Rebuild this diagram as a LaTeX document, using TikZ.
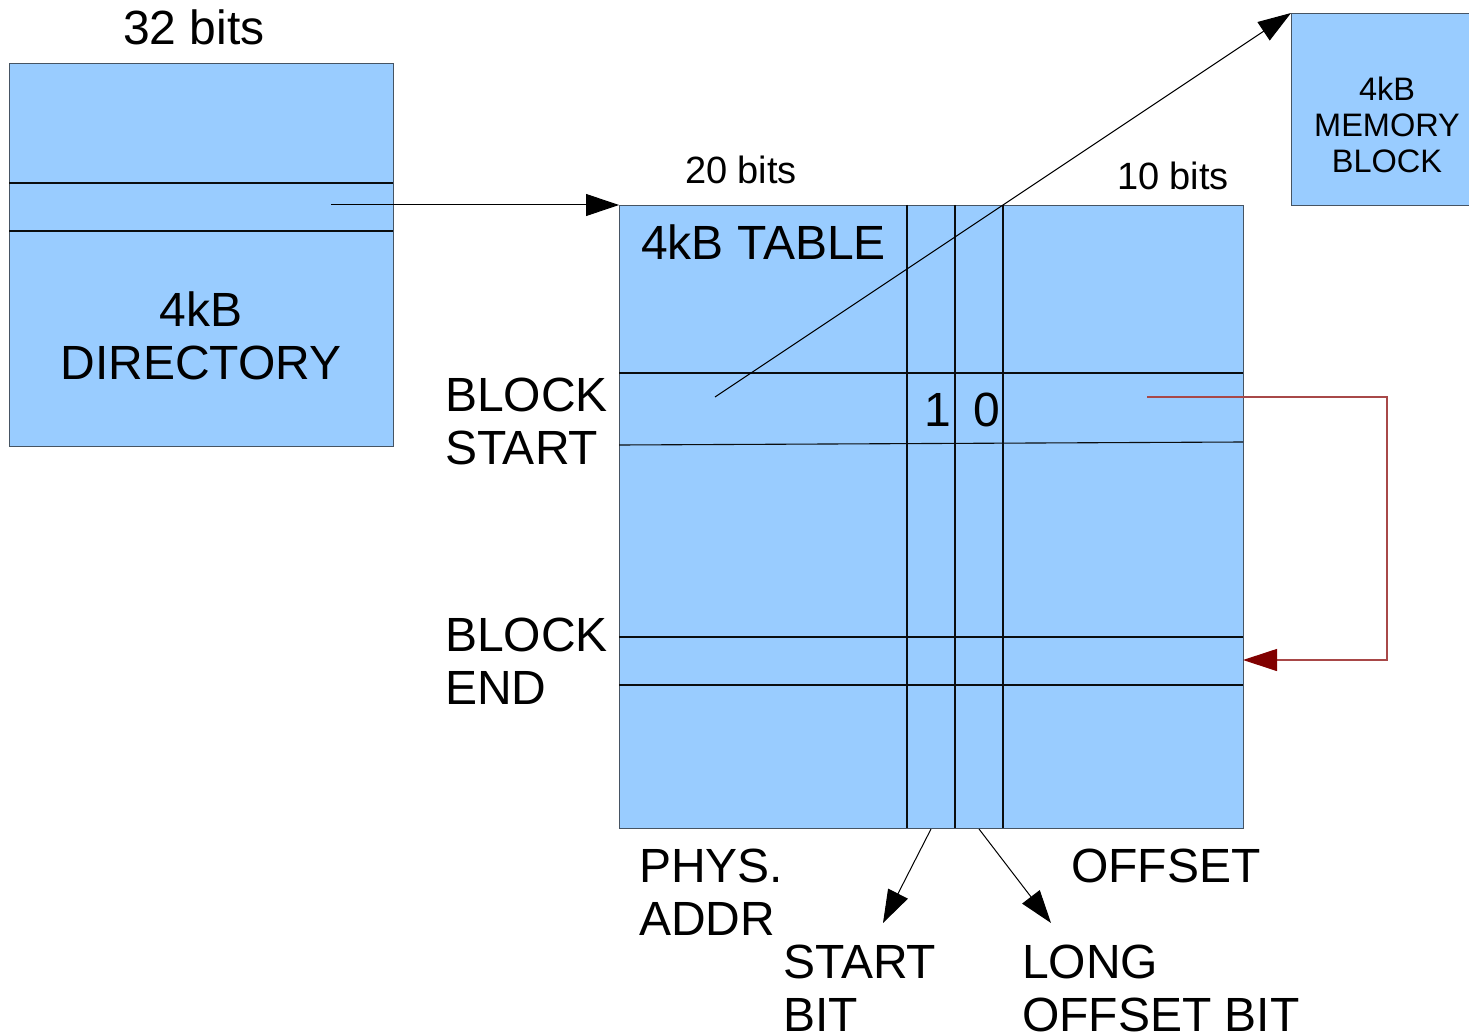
\documentclass[tikz,border=0pt]{standalone}
\usepackage{fontspec}
\setmainfont{Liberation Sans}
\usetikzlibrary{arrows.meta}
\definecolor{cellblue}{HTML}{99CCFF}
\definecolor{edgegray}{HTML}{465463}
\definecolor{linkred}{HTML}{A84848}
\definecolor{tipred}{HTML}{800000}
\begin{document}
\begin{tikzpicture}[x=1pt,y=-1pt,
  box/.style={draw=edgegray,fill=cellblue,line width=1.3pt,inner sep=0pt,anchor=north west},
  grid/.style={draw=black!85!edgegray,line width=1.1pt},
  link/.style={draw=black,line width=1pt,-{Triangle[length=33pt,width=22pt]}},
  big/.style={font=\fontsize{48}{53}\selectfont,inner sep=0pt,align=left},
  mid/.style={font=\fontsize{38}{42}\selectfont,inner sep=0pt},
  small/.style={font=\fontsize{32.5}{36}\selectfont,inner sep=0pt,align=center}]
\useasboundingbox (0,0) rectangle (1469,1035);

% directory page
\node[box,minimum width=384pt,minimum height=383pt] (dir) at (9,63) {};
\draw[grid] (9,183) -- (393,183);
\draw[grid] (9,231) -- (393,231);
\node[big,align=center] (dirlbl) at (201,336) {4kB\\DIRECTORY};
\node[font=\fontsize{48}{53}\selectfont,inner sep=0pt] (w32) at (194,27) {32 bits};

% page table
\node[box,minimum width=624pt,minimum height=623pt] (tbl) at (619,205) {};
\draw[grid] (907,205) -- (907,828);
\draw[grid] (955,205) -- (955,828);
\draw[grid] (1003,205) -- (1003,828);
\draw[grid] (619,373) -- (1243,373);
\draw[grid] (619,445) -- (1243,442);
\draw[grid] (619,637) -- (1243,637);
\draw[grid] (619,685) -- (1243,685);
\node[big,anchor=west] (tbllbl) at (641,242) {4kB TABLE};
\node[mid] (w20) at (741,170) {20 bits};
\node[mid] (w10) at (1173,176) {10 bits};
\node[big] (b1) at (938,410) {1};
\node[big] (b0) at (987,410) {0};

% memory block
\node[box,minimum width=178pt,minimum height=192pt] (mem) at (1291,13) {};
\node[small] (memlbl) at (1387,125) {4kB\\MEMORY\\BLOCK};

% side and bottom labels
\node[big,anchor=north west] (bs) at (445,378) {BLOCK\\START};
\node[big,anchor=north west] (be) at (445,618) {BLOCK\\END};
\node[big,anchor=north west] (pa) at (639,849) {PHYS.\\ADDR};
\node[big,anchor=north west] (off) at (1071,849) {OFFSET};
\node[big,anchor=north west] (sb) at (783,945) {START\\BIT};
\node[big,anchor=north west] (lb) at (1022,945) {LONG\\OFFSET BIT};

% connectors
\coordinate (dirptr) at (331,205);
\coordinate (tblin) at (619,205);
\draw[link] (dirptr) -- (tblin);

\coordinate (entry) at (715,397);
\coordinate (memin) at (1291,13);
\draw[link] (entry) -- (memin);

\coordinate (sbitout) at (931,829);
\coordinate (sbitin) at (883,923);
\draw[link] (sbitout) -- (sbitin);
\coordinate (lbitout) at (979,829);
\coordinate (lbitin) at (1051,923);
\draw[link] (lbitout) -- (lbitin);

\coordinate (offptr) at (1147,397);
\coordinate (endin) at (1243,660);
\draw[draw=linkred,line width=1.2pt,-{Triangle[length=34pt,width=22pt,color=tipred]}]
  (offptr) -- (1387,397) |- (endin);
\end{tikzpicture}
\end{document}
